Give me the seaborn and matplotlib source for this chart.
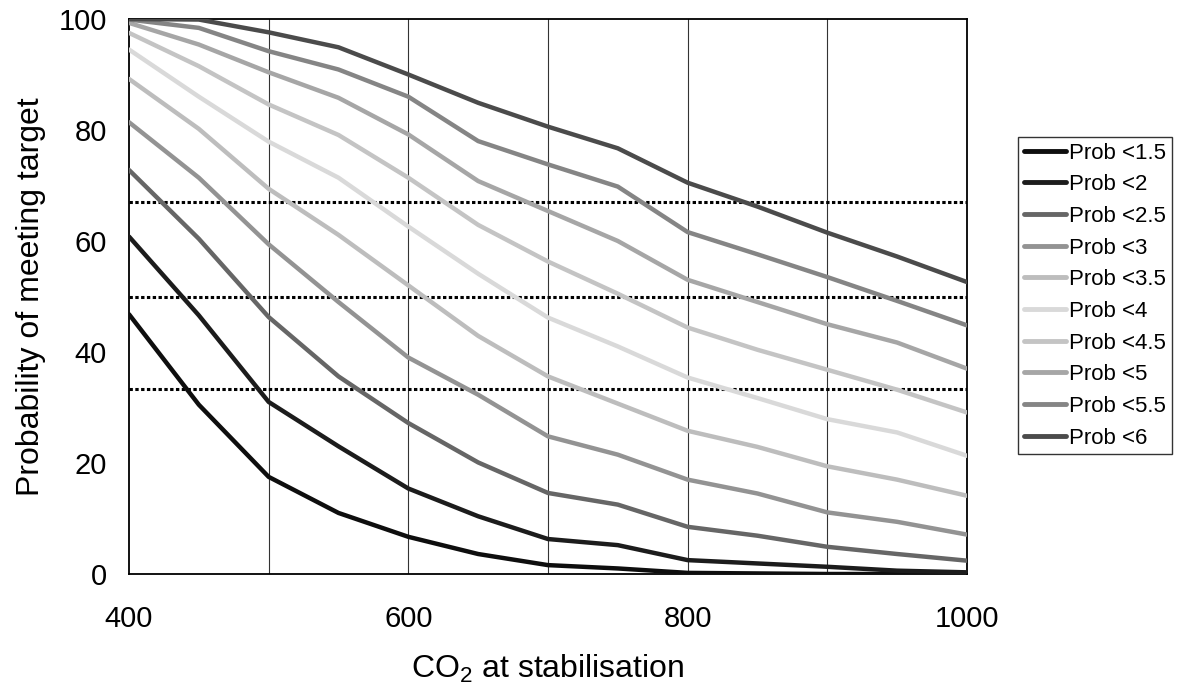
import numpy as np
import pandas as pd
import seaborn as sns
import matplotlib.pyplot as plt
from matplotlib.ticker import MultipleLocator

# CO2 stabilisation levels (ppm)
co2 = [400, 450, 500, 550, 600, 650, 700, 750, 800, 850, 900, 950, 1000]

# probability (%) of keeping warming below each threshold
prob_15 = [46.8, 30.5, 17.5, 11.0, 6.7, 3.6, 1.6, 1.0, 0.2, 0.1, 0.0, 0.0, 0.0]
prob_2 = [60.8, 46.6, 31.0, 23.0, 15.4, 10.4, 6.3, 5.2, 2.5, 1.9, 1.3, 0.6, 0.3]
prob_25 = [72.8, 60.4, 46.3, 35.6, 27.2, 20.1, 14.6, 12.5, 8.5, 6.9, 4.9, 3.6, 2.4]
prob_3 = [81.4, 71.4, 59.4, 49.0, 39.0, 32.3, 24.8, 21.5, 17.0, 14.5, 11.1, 9.4, 7.1]
prob_35 = [89.2, 80.2, 69.4, 61.1, 52.0, 42.9, 35.6, 30.7, 25.8, 22.9, 19.4, 17.0, 14.1]
prob_4 = [94.5, 86.0, 77.9, 71.4, 62.6, 54.1, 46.2, 41.0, 35.4, 31.7, 27.9, 25.5, 21.3]
prob_45 = [97.5, 91.5, 84.6, 79.1, 71.4, 62.9, 56.3, 50.5, 44.4, 40.4, 36.8, 33.2, 29.1]
prob_5 = [99.3, 95.4, 90.4, 85.8, 79.2, 70.8, 65.4, 60.0, 53.0, 49.0, 45.0, 41.7, 37.0]
prob_55 = [99.9, 98.4, 94.2, 90.9, 86.0, 78.0, 73.8, 69.8, 61.6, 57.6, 53.5, 49.2, 44.8]
prob_6 = [100.0, 99.9, 97.6, 94.9, 90.0, 84.9, 80.6, 76.7, 70.5, 66.2, 61.5, 57.2, 52.6]

series_names = ["Prob <1.5", "Prob <2", "Prob <2.5", "Prob <3", "Prob <3.5",
                "Prob <4", "Prob <4.5", "Prob <5", "Prob <5.5", "Prob <6"]
series_values = [prob_15, prob_2, prob_25, prob_3, prob_35,
                 prob_4, prob_45, prob_5, prob_55, prob_6]

# likelihood thresholds drawn as dotted lines
thresholds = [33.3, 50.0, 67.0]

greys = ["#0e0e0e", "#1c1c1c", "#666666", "#939393", "#bdbdbd",
         "#d9d9d9", "#c4c4c4", "#a6a6a6", "#858585", "#4b4b4b"]

rows = []
for name, vals in zip(series_names, series_values):
    for x, v in zip(co2, vals):
        rows.append({"CO2": x, "Probability": v, "Series": name})
df = pd.DataFrame(rows)

sns.set_style("white")
plt.rcParams["font.family"] = ["Liberation Sans", "DejaVu Sans"]
plt.rcParams["mathtext.fontset"] = "custom"
plt.rcParams["mathtext.rm"] = "Liberation Sans"
plt.rcParams["mathtext.it"] = "Liberation Sans"
for key in ["text.color", "axes.labelcolor", "xtick.color", "ytick.color"]:
    plt.rcParams[key] = "black"

fig = plt.figure(figsize=(11.78, 6.91), dpi=100)
ax = fig.add_axes([129 / 1178, 1 - 574 / 691, (967 - 129) / 1178, (574 - 19) / 691])

ax.set_xlim(400, 1000)
ax.set_ylim(0, 100)

ax.xaxis.set_major_locator(MultipleLocator(200))
ax.xaxis.set_minor_locator(MultipleLocator(100))
ax.yaxis.set_major_locator(MultipleLocator(20))
ax.yaxis.set_minor_locator(MultipleLocator(10))

ax.grid(False)
for x in range(500, 1000, 100):
    ax.axvline(x, color="#333333", lw=0.8, zorder=1)

for t in thresholds:
    ax.axhline(t, color="black", lw=2.2, linestyle=(0, (1.1, 0.8)), zorder=2)

sns.lineplot(data=df, x="CO2", y="Probability", hue="Series",
             hue_order=series_names, palette=dict(zip(series_names, greys)),
             lw=3.2, ax=ax, zorder=3, sort=False)
for line in ax.get_lines():
    line.set_solid_joinstyle("round")

for s in ax.spines.values():
    s.set_visible(True)
    s.set_color("black")
    s.set_linewidth(1.3)

ax.tick_params(which="both", direction="in", color="black", width=1)
ax.tick_params(axis="x", which="both", length=0, pad=22, labelsize=21)
ax.tick_params(axis="y", which="both", length=5, pad=16, labelsize=21)

ax.set_xlabel("CO$_2$ at stabilisation", fontsize=23, labelpad=15)
ax.set_ylabel("Probability of meeting target", fontsize=23, labelpad=9)

handles, labels = ax.get_legend_handles_labels()
leg = ax.legend(handles, labels, loc="upper left",
                bbox_to_anchor=(1018 / 1178, 1 - 137 / 691),
                bbox_transform=fig.transFigure, fontsize=16, frameon=True,
                fancybox=False, edgecolor="black", handlelength=1.9,
                handletextpad=0.15, labelspacing=0.48, borderpad=0.25,
                borderaxespad=0)
leg.get_frame().set_linewidth(1.0)
for h in leg.get_lines():
    h.set_linewidth(3.5)

plt.savefig("out.png", dpi=100)
plt.close("all")
